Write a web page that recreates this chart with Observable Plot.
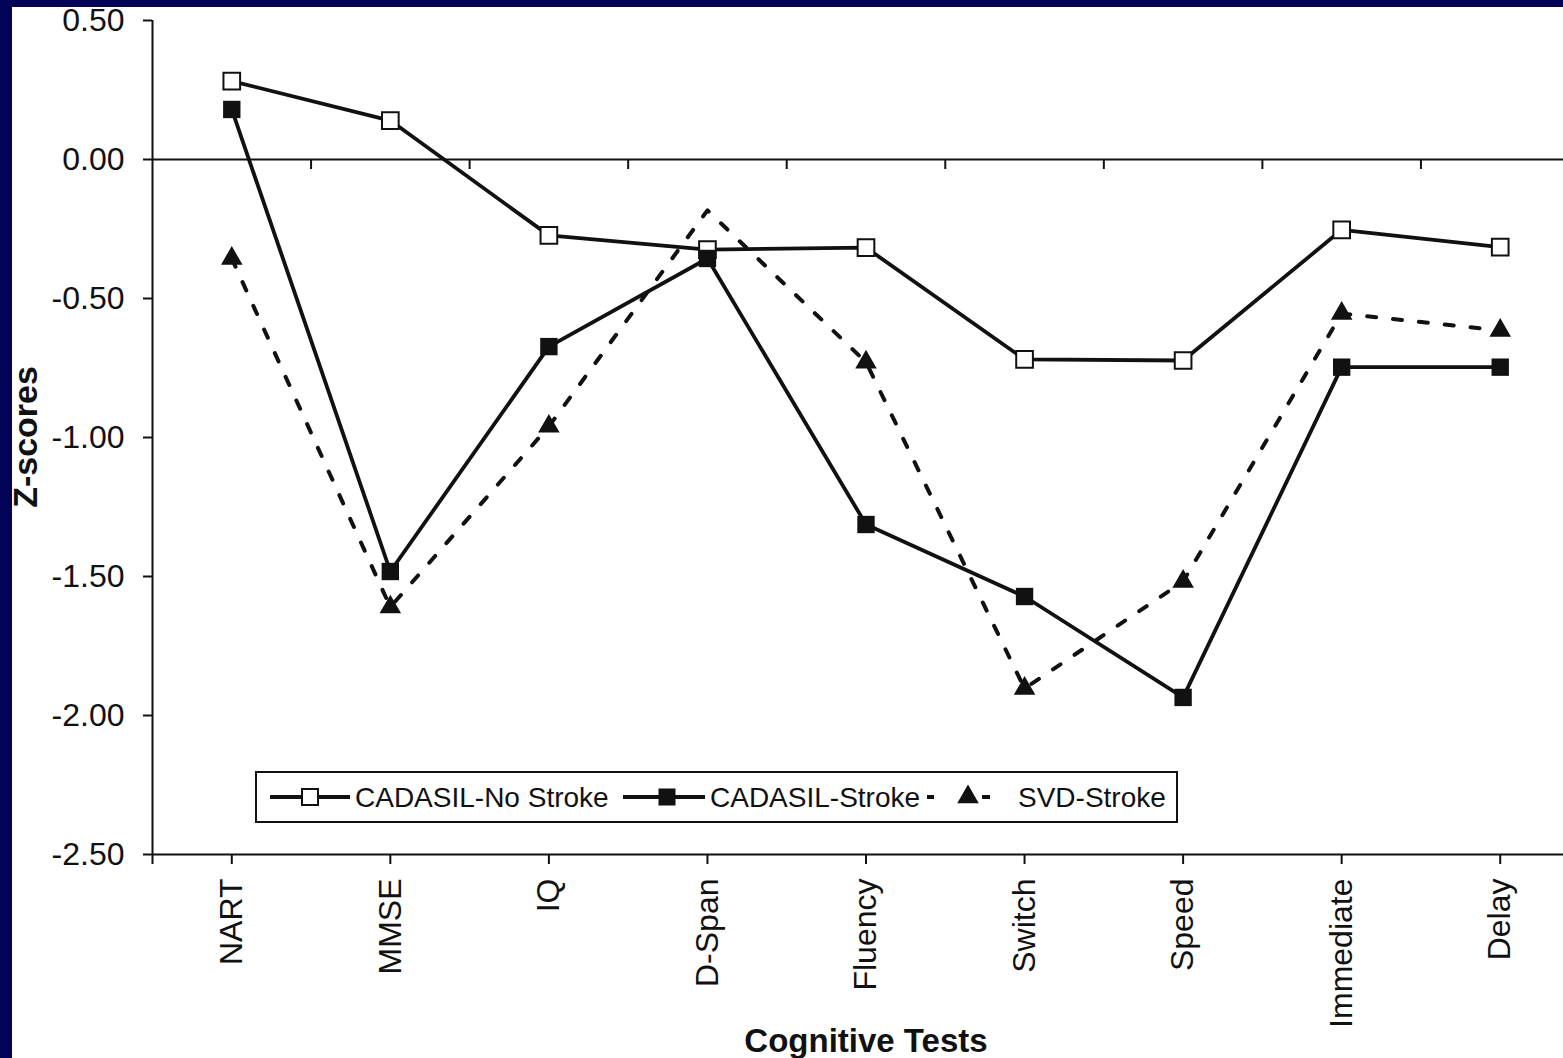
<!DOCTYPE html>
<html>
<head>
<meta charset="utf-8">
<script src="https://cdn.jsdelivr.net/npm/d3@7"></script>
<script src="https://cdn.jsdelivr.net/npm/@observablehq/plot@0.6"></script>
<style>
  html, body { margin: 0; padding: 0; width: 1563px; height: 1058px; overflow: hidden; background: #020256; }
  #panel { position: absolute; left: 12px; top: 7px; width: 1600px; height: 1051px; background: #ffffff; overflow: hidden; }
  #chart { position: absolute; left: 0; top: 0; }
  .overlay { position: absolute; left: 0; top: 0; pointer-events: none; }
  text { font-family: "Liberation Sans", Arial, sans-serif; }
</style>
</head>
<body>
<div id="panel">
  <div id="chart"></div>
</div>
<script>
// ---- data ----
const tests = ["NART", "MMSE", "IQ", "D-Span", "Fluency", "Switch", "Speed", "Immediate", "Delay"];
const noStrokeValues = [0.282, 0.140, -0.273, -0.324, -0.317, -0.719, -0.723, -0.253, -0.315];
const strokeValues   = [0.180, -1.482, -0.673, -0.356, -1.313, -1.572, -1.935, -0.747, -0.747];
const svdValues      = [-0.356, -1.610, -0.960, -0.183, -0.729, -1.903, -1.518, -0.554, -0.615];
const seriesNames = ["CADASIL-No Stroke", "CADASIL-Stroke", "SVD-Stroke"];
const yTicks = [0.5, 0, -0.5, -1, -1.5, -2, -2.5];
const yLabel = "Z-scores";
const xLabel = "Cognitive Tests";

const rows = (name, vals) => tests.map((t, i) => ({series: name, test: t, value: vals[i]}));
const noStroke = rows(seriesNames[0], noStrokeValues);
const stroke = rows(seriesNames[1], strokeValues);
const svd = rows(seriesNames[2], svdValues);

// ---- layout ----
const W = 1567, H = 1051, mL = 140, mR = 0, mT = 13, mB = 204;
const yMin = -2.5, yMax = 0.5;
const step = (W - mL - mR) / tests.length;
const pxPerUnit = (H - mT - mB) / (yMax - yMin);
const tickLen = 10;
const font = "Liberation Sans, Arial, sans-serif";
const ink = "#111";
const lw = 3.8;

const chart = Plot.plot({
  width: W, height: H,
  marginLeft: mL, marginRight: mR, marginTop: mT, marginBottom: mB,
  style: {fontFamily: font, fontSize: "32px", color: ink, background: "transparent", overflow: "visible"},
  x: {type: "point", domain: tests, padding: 0.5, round: false, label: null},
  y: {domain: [yMin, yMax], label: null},
  marks: [
    // y axis
    Plot.axisY({ticks: yTicks, tickSize: 9, tickPadding: 19, tickFormat: d => d.toFixed(2), fontSize: 32, stroke: ink, strokeWidth: 2, label: null}),
    // left axis line
    Plot.ruleX([tests[0]], {x: d => d, dx: -step / 2, y1: yMax, y2: yMin - tickLen / pxPerUnit, stroke: ink, strokeWidth: 2}),
    // zero line and bottom line
    Plot.ruleY([0], {stroke: ink, strokeWidth: 2}),
    Plot.ruleY([yMin], {stroke: ink, strokeWidth: 2}),
    // ticks on zero line between categories
    Plot.ruleX(tests.slice(1), {x: d => d, dx: -step / 2, y1: 0, y2: -tickLen / pxPerUnit, stroke: ink, strokeWidth: 2}),
    // x axis at bottom
    Plot.axisX({anchor: "bottom", tickSize: tickLen, tickPadding: 14, tickRotate: -90, fontSize: 32, stroke: ink, strokeWidth: 2, label: null}),
    // series lines
    Plot.line(svd, {x: "test", y: "value", stroke: ink, strokeWidth: 4, strokeDasharray: "9,17"}),
    Plot.line(noStroke, {x: "test", y: "value", stroke: ink, strokeWidth: lw}),
    Plot.line(stroke, {x: "test", y: "value", stroke: ink, strokeWidth: lw}),
    // markers
    Plot.dot(svd.filter(d => d.test !== "D-Span"), {x: "test", y: "value", symbol: "triangle", r: 8, fill: ink, stroke: "none"}),
    Plot.dot(noStroke, {x: "test", y: "value", symbol: "square", r: 9.4, fill: "white", stroke: ink, strokeWidth: 2}),
    Plot.dot(stroke, {x: "test", y: "value", symbol: "square", r: 9.8, fill: ink, stroke: "none"})
  ]
});
document.getElementById("chart").appendChild(chart);

// ---- titles and legend (overlay SVG) ----
const panel = document.getElementById("panel");
const ov = d3.select(panel).append("svg").attr("class", "overlay").attr("width", 1600).attr("height", 1051);

ov.append("text").attr("transform", "translate(25,430) rotate(-90)")
  .attr("text-anchor", "middle")
  .style("font-size", "34px").style("font-weight", "bold").attr("fill", ink).text(yLabel);
ov.append("text").attr("x", 854).attr("y", 1045).attr("text-anchor", "middle")
  .style("font-size", "33px").style("font-weight", "bold").attr("fill", ink).text(xLabel);

const lg = ov.append("g").attr("transform", "translate(243,764)");
lg.append("rect").attr("x", 1).attr("y", 1).attr("width", 921).attr("height", 50)
  .attr("fill", "white").attr("stroke", ink).attr("stroke-width", 2);
const cy = 26;
// swatch 1
lg.append("line").attr("x1", 15).attr("x2", 95).attr("y1", cy).attr("y2", cy).attr("stroke", ink).attr("stroke-width", lw);
lg.append("rect").attr("x", 55 - 8).attr("y", cy - 8).attr("width", 16).attr("height", 16).attr("fill", "white").attr("stroke", ink).attr("stroke-width", 2);
lg.append("text").attr("x", 100).attr("y", cy + 10).style("font-size", "28px").attr("fill", ink).text(seriesNames[0]);
// swatch 2
lg.append("line").attr("x1", 368).attr("x2", 450).attr("y1", cy).attr("y2", cy).attr("stroke", ink).attr("stroke-width", lw);
lg.append("rect").attr("x", 412 - 8.5).attr("y", cy - 8.5).attr("width", 17).attr("height", 17).attr("fill", ink);
lg.append("text").attr("x", 455).attr("y", cy + 10).style("font-size", "28px").attr("fill", ink).text(seriesNames[1]);
// swatch 3
lg.append("line").attr("x1", 672).attr("x2", 679).attr("y1", cy).attr("y2", cy).attr("stroke", ink).attr("stroke-width", 4);
lg.append("path").attr("d", d3.symbol(d3.symbolTriangle, Math.PI * 8 * 8)()).attr("transform", `translate(713,${cy})`).attr("fill", ink);
lg.append("line").attr("x1", 727).attr("x2", 735).attr("y1", cy).attr("y2", cy).attr("stroke", ink).attr("stroke-width", 4);
lg.append("text").attr("x", 763).attr("y", cy + 10).style("font-size", "28px").attr("fill", ink).text(seriesNames[2]);
</script>
</body>
</html>
